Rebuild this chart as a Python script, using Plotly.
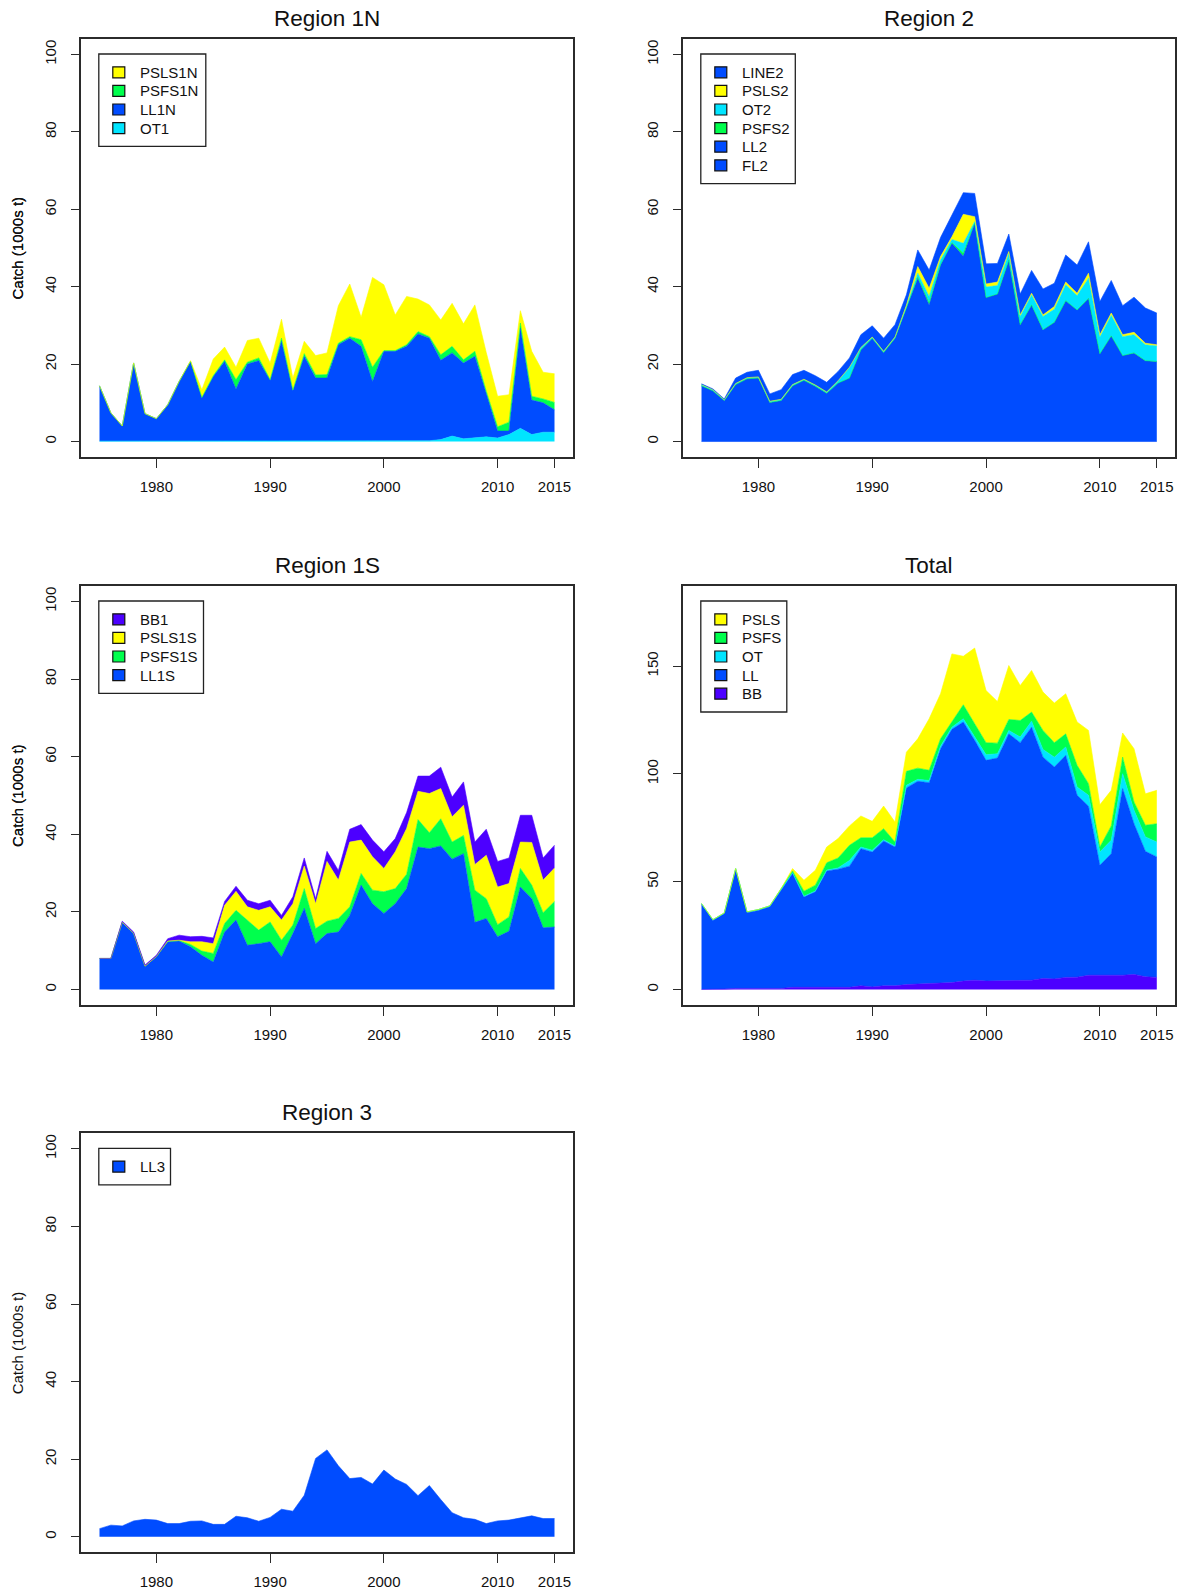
import plotly.graph_objects as go

years = list(range(1975, 2016))

# ---------------- Region 1N (values per fleet, 1000s t) ----------------
OT1 = [0.1, 0.1, 0.1, 0.1, 0.1, 0.1, 0.1, 0.1, 0.1, 0.1,
       0.1, 0.1, 0.1, 0.1, 0.1, 0.1, 0.1, 0.1, 0.1, 0.1,
       0.1, 0.2, 0.2, 0.2, 0.2, 0.2, 0.2, 0.2, 0.2, 0.2,
       0.5, 1.4, 0.7, 0.9, 1.2, 0.9, 1.8, 3.4, 1.8, 2.4, 2.4]
LL1N = [14.3, 7.3, 3.9, 20.2, 7.1, 5.8, 9.4, 15.4, 20.6, 11.2,
        16.7, 20.6, 13.5, 19.9, 20.8, 15.7, 25.8, 13.1, 21.9, 16.3,
        16.3, 24.8, 26.5, 24.4, 15.3, 23.1, 23.1, 24.4, 27.6, 26.5,
        20.5, 21.5, 19.6, 21.1, 11.3, 1.8, 0.9, 25.9, 8.9, 7.6, 5.8]
PSFS1N = [0, 0, 0, 0, 0, 0, 0, 0, 0, 0.1,
          0.2, 0.4, 2.4, 0.5, 0.7, 0.2, 0.8, 0.1, 0.7, 0.8,
          0.9, 0.4, 0.4, 1.7, 3.7, 0.2, 0.2, 0.4, 0.6, 0.4,
          1.4, 1.7, 0.8, 1.3, 0.5, 1.1, 2.3, 1.3, 1.0, 1.0, 1.9]
PSLS1N = [0, 0, 0, 0, 0, 0, 0, 0, 0.2, 2.0,
          4.3, 3.3, 3.2, 5.6, 5.1, 4.3, 4.9, 3.1, 3.2, 5.0,
          5.6, 9.7, 13.6, 5.8, 23.2, 17.0, 9.2, 12.5, 8.4, 8.2,
          9.0, 11.1, 9.3, 12.0, 10.0, 7.9, 7.1, 3.2, 11.6, 6.9, 7.4]

# ---------------- Region 2 ----------------
# FL2 and LL2 share the same colour and cannot be separated in the picture
FL2 = [0, 0, 0, 0, 0, 0, 0, 0, 0, 0,
       0, 0, 0, 0, 0, 0, 0, 0, 0, 0,
       0, 0, 0, 0, 0, 0, 0, 0, 0, 0,
       0, 0, 0, 0, 0, 0, 0, 0, 0, 0, 0]
LL2 = [14.4, 13.1, 10.6, 14.7, 16.2, 16.4, 10.1, 10.6, 14.4, 15.8,
       14.3, 12.5, 15.1, 16.4, 23.7, 26.7, 23.0, 26.7, 34.5, 42.2,
       35.3, 45.6, 51.2, 47.9, 56.4, 37.2, 38.1, 46.9, 30.2, 35.3,
       28.9, 30.8, 36.4, 34.0, 37.0, 22.7, 27.3, 22.2, 22.9, 20.9, 20.7]
PSFS2 = [0, 0, 0, 0, 0, 0, 0, 0, 0, 0,
         0, 0, 0, 0, 0, 0, 0, 0, 0.1, 0.3,
         0.6, 0.1, 0.2, 0.8, 0.2, 0, 0, 0, 0, 0,
         0, 0, 0, 0, 0, 0, 0, 0, 0, 0, 0]
OT2 = [0.3, 0.3, 0.2, 0.3, 0.3, 0.3, 0.3, 0.3, 0.3, 0.3,
       0.3, 0.3, 0.6, 2.8, 0.6, 0.3, 0.3, 0.3, 0.2, 1.0,
       1.6, 1.2, 0.8, 2.5, 0.2, 2.7, 2.2, 1.7, 2.1, 2.6,
       3.4, 3.4, 4.1, 3.7, 5.2, 4.3, 5.3, 4.9, 4.7, 4.1, 4.0]
PSLS2 = [0, 0, 0, 0, 0, 0, 0, 0, 0, 0,
         0, 0, 0, 0, 0, 0, 0, 0, 0.4, 1.7,
         2.1, 0.9, 0.7, 7.5, 1.3, 0.8, 0.9, 0.5, 0.4, 0.4,
         0.4, 0.7, 0.7, 0.6, 1.3, 0.6, 0.6, 0.5, 0.6, 0.4, 0.3]
LINE2 = [0.2, 0.2, 0.2, 1.4, 1.4, 1.7, 1.9, 2.5, 2.6, 2.3,
         2.4, 2.5, 2.4, 2.4, 3.3, 2.9, 3.4, 3.2, 2.7, 4.3,
         4.7, 4.9, 5.6, 5.6, 6.0, 5.2, 4.8, 4.5, 5.4, 5.9,
         6.7, 6.0, 7.0, 7.3, 8.1, 8.6, 8.4, 7.5, 9.1, 9.1, 8.2]

# ---------------- Region 1S ----------------
LL1S = [8.0, 8.0, 17.3, 14.5, 6.0, 8.5, 12.3, 12.5, 11.0, 8.8,
        7.1, 14.8, 17.9, 11.4, 11.8, 12.3, 8.4, 14.4, 20.9, 11.8,
        14.4, 14.8, 19.1, 26.9, 22.1, 19.6, 22.1, 26.0, 36.7, 36.3,
        37.0, 33.6, 35.0, 17.3, 18.3, 13.6, 15.0, 26.4, 23.4, 15.9, 16.1]
PSFS1S = [0, 0, 0, 0, 0, 0, 0.1, 0.1, 0.6, 1.1,
          2.2, 2.2, 2.5, 6.5, 3.5, 5.1, 4.3, 2.2, 5.1, 3.9,
          3.2, 3.5, 2.2, 3.0, 3.5, 5.6, 3.9, 3.7, 7.1, 4.1,
          7.0, 4.4, 4.7, 8.3, 5.1, 3.1, 3.7, 4.8, 3.5, 3.9, 6.6]
PSLS1S = [0, 0, 0, 0, 0, 0, 0.1, 0.1, 0.7, 2.4,
          2.5, 4.7, 4.9, 3.4, 5.1, 3.9, 5.2, 5.5, 5.8, 6.4,
          15.4, 9.9, 16.7, 8.6, 8.6, 6.0, 9.5, 11.8, 7.3, 10.1,
          7.8, 6.5, 7.8, 6.6, 11.2, 9.7, 8.6, 6.8, 11.0, 8.4, 8.6]
BB1 = [0, 0, 0.3, 0.3, 0.3, 0.3, 0.6, 1.3, 1.3, 1.4,
       1.5, 1.0, 1.3, 1.7, 1.7, 1.7, 1.2, 1.8, 2.1, 1.3,
       2.6, 2.5, 3.3, 4.0, 4.3, 4.3, 3.4, 4.1, 3.9, 4.5,
       5.5, 5.1, 6.0, 5.8, 6.7, 6.6, 6.6, 6.9, 7.0, 5.7, 5.9]

# ---------------- Region 3 ----------------
LL3 = [2.1, 3.0, 2.8, 4.1, 4.5, 4.3, 3.4, 3.4, 4.0, 4.1,
       3.2, 3.2, 5.3, 4.9, 4.0, 5.0, 7.1, 6.6, 10.7, 20.2,
       22.4, 18.3, 15.0, 15.3, 13.6, 17.2, 14.9, 13.5, 10.6, 13.2,
       9.6, 6.2, 4.9, 4.5, 3.4, 4.1, 4.3, 4.9, 5.4, 4.7, 4.7]

# ---------------- Total ----------------
BB = [0, 0, 0.2, 0.5, 0.5, 0.5, 0.5, 0.5, 1.0, 1.0,
      1.0, 1.0, 1.0, 1.0, 1.7, 1.2, 1.7, 1.7, 2.3, 2.6,
      2.8, 3.2, 3.2, 3.9, 4.3, 3.9, 4.0, 4.0, 4.0, 4.3,
      5.1, 4.9, 5.6, 5.7, 6.6, 6.6, 6.6, 6.6, 7.0, 5.9, 5.6]
LL = [39.5, 32.0, 34.9, 55.2, 35.1, 36.2, 37.9, 45.7, 52.8, 41.9,
      44.3, 54.0, 54.8, 56.2, 63.6, 62.6, 67.2, 64.4, 91.2, 94.0,
      93.1, 108.5, 117.5, 120.2, 111.3, 102.4, 103.4, 114.6, 110.5, 117.4,
      102.7, 98.3, 103.0, 84.4, 78.4, 51.0, 56.4, 86.6, 69.9, 58.2, 55.9]
OT = [0.4, 0.4, 0.4, 0.4, 0.4, 0.4, 0.4, 0.4, 0.4, 0.4,
      0.4, 0.4, 0.6, 2.7, 0.8, 0.8, 0.6, 0.5, 1.2, 0.9,
      1.1, 1.2, 1.0, 1.5, 1.5, 2.6, 2.0, 1.6, 2.6, 2.8,
      3.6, 4.6, 3.9, 3.8, 5.1, 6.2, 6.2, 6.9, 6.2, 6.7, 6.9]
PSFS = [0, 0, 0, 0, 0, 0, 0, 0.1, 0.8, 2.3,
        2.7, 3.4, 4.6, 7.0, 4.3, 5.8, 5.1, 1.8, 6.5, 5.2,
        4.7, 3.4, 2.7, 6.5, 6.2, 5.6, 4.9, 5.1, 7.7, 4.2,
        8.8, 6.7, 6.1, 10.1, 5.4, 2.3, 6.7, 7.7, 3.9, 5.4, 8.5]
PSLS = [0, 0, 0, 0, 0, 0, 0, 0.1, 1.1, 5.1,
        6.9, 7.3, 9.0, 9.0, 10.1, 7.6, 10.5, 9.3, 8.9, 13.6,
        23.9, 20.9, 31.3, 22.5, 35.1, 24.2, 19.3, 25.0, 16.2, 19.3,
        17.8, 18.4, 18.6, 20.1, 24.7, 19.6, 16.5, 11.2, 24.7, 14.6, 15.5]

x_ticks = [1980, 1990, 2000, 2010, 2015]
y_ticks_region = [0, 20, 40, 60, 80, 100]
y_ticks_total = [0, 50, 100, 150]

C_BB, C_LL, C_OT, C_PSFS, C_PSLS = "#4C00FF", "#004CFF", "#00E5FF", "#00FF4D", "#FFFF00"

W, H = 1183, 1591
# plot boxes in pixels: (left, right) per column, (top, bottom) per row
COLS = [(81.3, 572.7), (683.3, 1175.0)]
ROWS = [(39.0, 457.0), (586.0, 1005.0), (1133.3, 1552.3)]

panels = [
    dict(title="Region 1N", col=0, row=0, ymax=100, yt=y_ticks_region, legw=107,
         series=[("OT1", OT1, C_OT), ("LL1N", LL1N, C_LL), ("PSFS1N", PSFS1N, C_PSFS),
                 ("PSLS1N", PSLS1N, C_PSLS)]),
    dict(title="Region 2", col=1, row=0, ymax=100, yt=y_ticks_region, legw=94.5,
         series=[("FL2", FL2, C_LL), ("LL2", LL2, C_LL), ("PSFS2", PSFS2, C_PSFS),
                 ("OT2", OT2, C_OT), ("PSLS2", PSLS2, C_PSLS), ("LINE2", LINE2, C_LL)]),
    dict(title="Region 1S", col=0, row=1, ymax=100, yt=y_ticks_region, legw=104.7,
         series=[("LL1S", LL1S, C_LL), ("PSFS1S", PSFS1S, C_PSFS), ("PSLS1S", PSLS1S, C_PSLS),
                 ("BB1", BB1, C_BB)]),
    dict(title="Total", col=1, row=1, ymax=180, yt=y_ticks_total, legw=86,
         series=[("BB", BB, C_BB), ("LL", LL, C_LL), ("OT", OT, C_OT), ("PSFS", PSFS, C_PSFS),
                 ("PSLS", PSLS, C_PSLS)]),
    dict(title="Region 3", col=0, row=2, ymax=100, yt=y_ticks_region, legw=71.7,
         series=[("LL3", LL3, C_LL)]),
]

def px(x):
    return x / W

def py(y):
    return 1 - y / H

fig = go.Figure()
shapes, annotations = [], []
FONT = "Liberation Sans, Arial, sans-serif"
layout_axes = {}

for i, p in enumerate(panels, start=1):
    xa = "x" if i == 1 else f"x{i}"
    ya = "y" if i == 1 else f"y{i}"
    for name, vals, col in p["series"]:
        fig.add_trace(go.Scatter(
            x=years, y=vals, name=name, mode="lines", stackgroup=f"g{i}",
            line=dict(width=0.6, color=col), fillcolor=col,
            xaxis=xa, yaxis=ya, showlegend=False, hoverinfo="skip"))
    l, r = COLS[p["col"]]
    t, b = ROWS[p["row"]]
    pad = 0.04 * p["ymax"]
    axis_common = dict(showline=True, mirror=True, linecolor="#2b2b2b", linewidth=1.5,
                       ticks="outside", ticklen=9, tickwidth=1.2, tickcolor="#2b2b2b",
                       showgrid=False, zeroline=False,
                       tickfont=dict(family=FONT, size=15, color="#111"))
    layout_axes["xaxis" if i == 1 else f"xaxis{i}"] = dict(
        domain=[px(l), px(r)], anchor=ya, range=[1973.4, 2016.6],
        tickmode="array", tickvals=x_ticks, ticklabelstandoff=6, **axis_common)
    layout_axes["yaxis" if i == 1 else f"yaxis{i}"] = dict(
        domain=[py(b), py(t)], anchor=xa, range=[-pad, p["ymax"] + pad],
        tickmode="array", tickvals=p["yt"], tickangle=-90, ticklabelstandoff=9,
        **axis_common)
    # title
    annotations.append(dict(text=p["title"], x=px((l + r) / 2), y=py(t - 20.7),
                            xref="paper", yref="paper", showarrow=False,
                            xanchor="center", yanchor="middle",
                            font=dict(family=FONT, size=22.5, color="#111")))
    # y label
    annotations.append(dict(text="Catch (1000s t)", x=px(17.5), y=py((t + b) / 2),
                            xref="paper", yref="paper", showarrow=False, textangle=-90,
                            xanchor="center", yanchor="middle",
                            font=dict(family=FONT, size=15, color="#111")))
    # legend (top-left, R style)
    items = list(reversed(p["series"]))
    lx0, ly0 = l + 17.5, t + 15
    step = 18.6
    lh = 36.6 + step * (len(items) - 1)
    shapes.append(dict(type="rect", xref="paper", yref="paper",
                       x0=px(lx0), x1=px(lx0 + p["legw"]), y0=py(ly0 + lh), y1=py(ly0),
                       line=dict(color="#222", width=1.3), fillcolor="white"))
    for k, (name, vals, col) in enumerate(items):
        cy = ly0 + 18.3 + k * step
        shapes.append(dict(type="rect", xref="paper", yref="paper",
                           x0=px(lx0 + 14), x1=px(lx0 + 26), y0=py(cy + 5.5), y1=py(cy - 5.5),
                           line=dict(color="#111", width=1.2), fillcolor=col))
        annotations.append(dict(text=name, x=px(lx0 + 39), y=py(cy), xref="paper", yref="paper",
                                showarrow=False, xanchor="left", yanchor="middle",
                                font=dict(family=FONT, size=15, color="#111")))

fig.update_layout(width=W, height=H, margin=dict(l=0, r=0, t=0, b=0),
                  paper_bgcolor="white", plot_bgcolor="white", showlegend=False,
                  shapes=shapes, annotations=annotations, **layout_axes)

fig.write_html("out.html")
